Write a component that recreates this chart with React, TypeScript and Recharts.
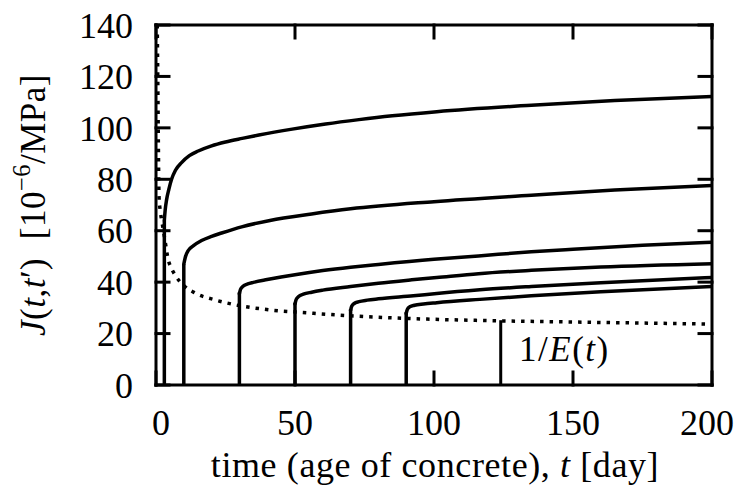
import { LineChart, Line, XAxis, YAxis } from "recharts";

const xTicks = [0, 50, 100, 150, 200];
const yTicks = [0, 20, 40, 60, 80, 100, 120, 140];

// age at loading t' [day] and compliance right after loading
const loadAges = [3, 10, 30, 50, 70, 90];
const jumpTops = [64, 47, 36, 32, 29.5, 28.3];

// creep curves J(t,t') after loading
const creep3 = [
  { t: 3, j: 64 }, { t: 3.3, j: 68 }, { t: 3.8, j: 72 }, { t: 4.6, j: 76 },
  { t: 5.6, j: 80 }, { t: 7, j: 83.5 }, { t: 9.2, j: 86.5 }, { t: 12, j: 89.2 },
  { t: 15.2, j: 91 }, { t: 20, j: 93 }, { t: 25, j: 94.5 }, { t: 31, j: 95.9 },
  { t: 37, j: 97.2 }, { t: 49, j: 99.5 }, { t: 61, j: 101.5 }, { t: 73, j: 103.2 },
  { t: 85, j: 104.7 }, { t: 101, j: 106.3 }, { t: 135, j: 108.8 },
  { t: 165, j: 110.6 }, { t: 200, j: 112.2 },
];
const creep10 = [
  { t: 10, j: 47 }, { t: 10.5, j: 49.5 }, { t: 11.6, j: 52.3 }, { t: 13.5, j: 54.2 },
  { t: 16.4, j: 56.2 }, { t: 20, j: 57.8 }, { t: 23.6, j: 59.1 }, { t: 30.8, j: 61.5 },
  { t: 41, j: 64 }, { t: 56, j: 66.5 }, { t: 70, j: 68.5 }, { t: 100, j: 71.3 },
  { t: 135, j: 73.8 }, { t: 165, j: 75.8 }, { t: 200, j: 77.6 },
];
const creep30 = [
  { t: 30, j: 35.5 }, { t: 30.4, j: 37.2 }, { t: 31.3, j: 38.4 }, { t: 33, j: 39.3 },
  { t: 35, j: 39.9 }, { t: 40, j: 41 }, { t: 45, j: 42 }, { t: 50, j: 42.9 },
  { t: 60, j: 44.5 }, { t: 70, j: 45.8 }, { t: 80, j: 46.9 }, { t: 100, j: 48.9 },
  { t: 116, j: 50.2 }, { t: 135, j: 51.8 }, { t: 150, j: 52.8 }, { t: 175, j: 54.3 },
  { t: 200, j: 55.5 },
];
const creep50 = [
  { t: 50, j: 31.5 }, { t: 50.4, j: 33.2 }, { t: 51.3, j: 34.4 }, { t: 53, j: 35.3 },
  { t: 56, j: 36.1 }, { t: 60, j: 36.9 }, { t: 70, j: 38.3 }, { t: 80, j: 39.6 },
  { t: 92, j: 40.9 }, { t: 101, j: 41.8 }, { t: 116, j: 43.3 }, { t: 135, j: 44.6 },
  { t: 160, j: 45.9 }, { t: 200, j: 47.2 },
];
const creep70 = [
  { t: 70, j: 29 }, { t: 70.4, j: 30.6 }, { t: 71.3, j: 31.7 }, { t: 73, j: 32.4 },
  { t: 76, j: 33 }, { t: 80, j: 33.5 }, { t: 92.6, j: 34.7 }, { t: 101, j: 35.6 },
  { t: 116.5, j: 37 }, { t: 135, j: 38.3 }, { t: 160, j: 39.8 }, { t: 200, j: 41.8 },
];
const creep90 = [
  { t: 90, j: 27.8 }, { t: 90.4, j: 29.4 }, { t: 91.3, j: 30.4 }, { t: 93, j: 31 },
  { t: 96.2, j: 31.5 }, { t: 101, j: 32 }, { t: 116.5, j: 33.3 }, { t: 135, j: 34.7 },
  { t: 160, j: 36.3 }, { t: 200, j: 38.3 },
];
const creepCurves = [creep3, creep10, creep30, creep50, creep70, creep90];

// 1/E(t), dotted
const elastic = [
  { t: 0.45, j: 140 }, { t: 0.7, j: 112 }, { t: 0.9, j: 88 }, { t: 1.1, j: 73 },
  { t: 1.5, j: 68 }, { t: 2, j: 64.3 }, { t: 2.6, j: 60.5 }, { t: 3.2, j: 56.5 },
  { t: 4.4, j: 48.7 }, { t: 5.5, j: 45.5 }, { t: 6.8, j: 42.9 }, { t: 8.5, j: 40.3 },
  { t: 10.4, j: 38.3 }, { t: 14, j: 35.8 }, { t: 21.2, j: 33.1 }, { t: 28.4, j: 31.2 },
  { t: 38.6, j: 29.5 }, { t: 44.6, j: 28.8 }, { t: 50, j: 28.4 }, { t: 68.6, j: 27 },
  { t: 92.6, j: 25.8 }, { t: 116.5, j: 25.1 }, { t: 150, j: 24.5 }, { t: 200, j: 23.7 },
];

// leader line under the 1/E(t) label
const pointerAt = 124;
const pointerTop = 25.2;

const serif = '"Liberation Serif", "Times New Roman", serif';
const frame = { stroke: "#000", strokeWidth: 3, strokeLinecap: "square" as const };
const tickFont = { fill: "#000", fontSize: 36, fontFamily: serif };

// end labels sit a little inside the frame, as in the original plot
function XTick(props: any) {
  const { x, y, payload, index } = props;
  const dx = index === 0 ? 5 : index === xTicks.length - 1 ? -5 : 0;
  return (
    <text x={x + dx} y={y} dy="0.71em" textAnchor="middle" {...tickFont}>
      {payload.value}
    </text>
  );
}

export default function App() {
  const jumps = loadAges.map((a, i) => [
    { t: a, j: 0 },
    { t: a, j: jumpTops[i] },
  ]);
  const pointer = [
    { t: pointerAt, j: 0 },
    { t: pointerAt, j: pointerTop },
  ];

  return (
    <div style={{ position: "absolute", left: 0, top: 0, width: 746, height: 489, background: "#fff" }}>
      <LineChart width={746} height={489} margin={{ top: 24, right: 33, bottom: 0, left: 0 }}>
        <XAxis
          dataKey="t"
          type="number"
          domain={[0, 200]}
          ticks={xTicks}
          allowDataOverflow
          height={104}
          tickSize={-13}
          tickMargin={37}
          axisLine={frame}
          tickLine={frame}
          tick={<XTick />}
        />
        <XAxis
          xAxisId="top"
          dataKey="t"
          orientation="top"
          type="number"
          domain={[0, 200]}
          ticks={xTicks}
          allowDataOverflow
          height={1}
          tickSize={-13}
          tickFormatter={() => ""}
          axisLine={frame}
          tickLine={frame}
        />
        <YAxis
          type="number"
          domain={[0, 140]}
          ticks={yTicks}
          allowDataOverflow
          width={156}
          tickSize={-13}
          tickMargin={36}
          axisLine={frame}
          tickLine={frame}
          tick={tickFont}
        />
        <YAxis
          yAxisId="right"
          orientation="right"
          type="number"
          domain={[0, 140]}
          ticks={yTicks}
          allowDataOverflow
          width={1}
          tickSize={-13}
          tickFormatter={() => ""}
          axisLine={frame}
          tickLine={frame}
        />
        <Line
          data={elastic}
          dataKey="j"
          xAxisId="top"
          yAxisId="right"
          type="monotone"
          stroke="#000"
          strokeWidth={3.5}
          strokeDasharray="3.5 6"
          dot={false}
          isAnimationActive={false}
        />
        <Line
          data={pointer}
          dataKey="j"
          type="linear"
          stroke="#000"
          strokeWidth={3}
          dot={false}
          isAnimationActive={false}
        />
        {jumps.map((seg, i) => (
          <Line
            key={`jump-${i}`}
            data={seg}
            dataKey="j"
            type="linear"
            stroke="#000"
            strokeWidth={3.5}
            dot={false}
            isAnimationActive={false}
          />
        ))}
        {creepCurves.map((curve, i) => (
          <Line
            key={`creep-${i}`}
            data={curve}
            dataKey="j"
            type="monotone"
            stroke="#000"
            strokeWidth={3.5}
            strokeLinecap="round"
            dot={false}
            isAnimationActive={false}
          />
        ))}
      </LineChart>

      <div
        style={{
          position: "absolute",
          left: 33,
          top: 205,
          transform: "translate(-50%, -50%) rotate(-90deg)",
          whiteSpace: "nowrap",
          fontFamily: serif,
          fontSize: 35,
          lineHeight: 1,
          letterSpacing: 0.5,
          color: "#000",
        }}>
        <i>J</i>(<i>t</i>,<i>t</i>′)&nbsp;&nbsp;[10
        <span style={{ fontSize: "0.7em", position: "relative", top: "-0.6em" }}>−6</span>
        /MPa]
      </div>

      <div
        style={{
          position: "absolute",
          left: 435,
          top: 444,
          transform: "translateX(-50%)",
          whiteSpace: "nowrap",
          fontFamily: serif,
          fontSize: 36,
          letterSpacing: 0.6,
          color: "#000",
        }}>
        time (age of concrete), <i>t</i> [day]
      </div>

      <div
        style={{
          position: "absolute",
          left: 519,
          top: 330,
          whiteSpace: "nowrap",
          fontFamily: serif,
          fontSize: 35,
          letterSpacing: 1.5,
          color: "#000",
        }}>
        1/<i>E</i>(<i>t</i>)
      </div>
    </div>
  );
}
